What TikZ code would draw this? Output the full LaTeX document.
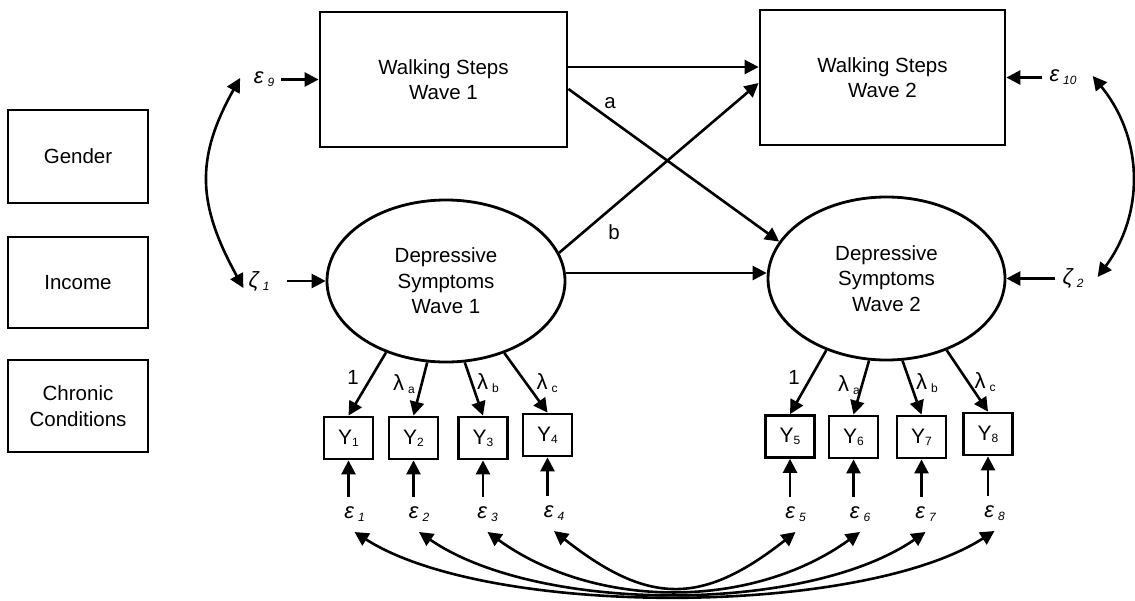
\documentclass[tikz,border=0pt]{standalone}
\usepackage{fontspec}
\setmainfont{Liberation Sans}
\usetikzlibrary{arrows.meta,shapes.geometric}
\newcommand{\lsub}[1]{\hspace{4pt}\raisebox{-3pt}{\fontsize{12}{12}\selectfont #1}}
\newcommand{\ysub}[1]{\raisebox{-2pt}{\fontsize{12}{12}\selectfont #1}}
\begin{document}
\begin{tikzpicture}[x=1pt,y=-1pt,
  every node/.style={font=\fontsize{20.5}{25.5}\selectfont},
  box/.style={draw, line width=2.8pt, inner sep=0pt, align=center},
  ell/.style={draw, ellipse, line width=2.8pt, inner sep=0pt, align=center},
  arr/.style={line width=2.6pt, -{Triangle[length=14pt,width=14pt]}},
  darr/.style={line width=2.6pt, {Triangle[length=14pt,width=14pt]}-{Triangle[length=14pt,width=14pt]}},
  ybox/.style={draw, line width=2.8pt, minimum width=49pt, minimum height=42pt, inner sep=0pt, font=\fontsize{21}{21}\selectfont},
  elab/.style={inner sep=0pt, outer xsep=2pt, outer ysep=10pt, text height=11pt, text depth=4pt, anchor=base, font=\fontsize{22}{22}\selectfont},
  lab/.style={inner ysep=2pt, inner xsep=7pt, font=\fontsize{22}{22}\selectfont},
  coef/.style={inner sep=1pt},
  lam/.style={inner sep=1pt, font=\fontsize{22}{22}\selectfont}]
\useasboundingbox (0,0) rectangle (1135,600);
% main variables
\node[box, minimum width=247pt, minimum height=135pt] (ws1) at (443.5,79.5) {Walking Steps\\Wave 1};
\node[box, minimum width=245pt, minimum height=135pt] (ws2) at (882.5,77.5) {Walking Steps\\Wave 2};
\node[ell, minimum width=238pt, minimum height=162pt] (ds1) at (446,281) {Depressive\\Symptoms\\Wave 1};
\node[ell, minimum width=237pt, minimum height=163pt] (ds2) at (886.5,278.5) {Depressive\\Symptoms\\Wave 2};
% covariates
\node[box, minimum width=140pt, minimum height=93pt] (gen) at (78,156.5) {Gender};
\node[box, minimum width=140pt, minimum height=91pt] (inc) at (78,282.5) {Income};
\node[box, minimum width=140pt, minimum height=92pt] (chr) at (78,406) {Chronic\\Conditions};
% indicators
\node[ybox] (y1) at (348.5,438) {Y\ysub{1}};
\node[ybox] (y2) at (413.5,438) {Y\ysub{2}};
\node[ybox] (y3) at (483,438) {Y\ysub{3}};
\node[ybox] (y4) at (547.5,435) {Y\ysub{4}};
\node[ybox] (y5) at (790,436.5) {Y\ysub{5}};
\node[ybox] (y6) at (853.5,437) {Y\ysub{6}};
\node[ybox] (y7) at (921.5,437) {Y\ysub{7}};
\node[ybox] (y8) at (988,434) {Y\ysub{8}};
% residuals of indicators
\node[elab] (e1) at (354.5,518) {\itshape ε\lsub{1}};
\node[elab] (e2) at (419,518) {\itshape ε\lsub{2}};
\node[elab] (e3) at (487.5,518) {\itshape ε\lsub{3}};
\node[elab] (e4) at (554,517) {\itshape ε\lsub{4}};
\node[elab] (e5) at (795.5,518) {\itshape ε\lsub{5}};
\node[elab] (e6) at (860,518) {\itshape ε\lsub{6}};
\node[elab] (e7) at (925.5,518) {\itshape ε\lsub{7}};
\node[elab] (e8) at (994.5,517) {\itshape ε\lsub{8}};
% structural residuals
\node[lab] (e9) at (264,79.5) {\itshape ε\lsub{9}};
\node[lab] (e10) at (1063,77.5) {\itshape ε\lsub{10}};
\node[lab] (z1) at (259,281) {\itshape ζ\lsub{1}};
\node[lab] (z2) at (1073,278.5) {\itshape ζ\lsub{2}};
% structural paths
\draw[arr] ([yshift=12.5pt]ws1.east) -- ([yshift=12.5pt]ws1.east -| ws2.west);
\draw[arr] ([yshift=-9.5pt]ws1.east) -- (ds2.161);
\draw[arr] (ds1.14) -- ([yshift=-5.5pt]ws2.west);
\draw[arr] ([yshift=8pt]ds1.east) -- ([yshift=8pt]ds1.east -| ds2.west);
\node[coef] (pa) at (610,103) {a};
\node[coef] (pb) at (614,232) {b};
% residual arrows
\draw[arr] (e9) -- (ws1);
\draw[arr] (e10) -- (ws2);
\draw[arr, shorten <=10pt] (z1) -- (ds1);
\draw[arr] (z2) -- (ds2);
\draw[darr] ([xshift=-6.5pt,yshift=1.5pt]e9.west) .. controls +(-46,82) and +(-45,-82) .. ([xshift=2pt,yshift=-7pt]z1.west);
\draw[darr] ([xshift=9pt,yshift=1.5pt]e10.east) .. controls +(52,64) and +(46,-62) .. ([xshift=7pt,yshift=1.5pt]z2.east);
% loadings
\draw[arr] (ds1.230) -- (y1.north);
\draw[arr] (ds1.257) -- (y2.north);
\draw[arr] (ds1.283) -- (y3.north);
\draw[arr] (ds1.309) -- (y4.north);
\draw[arr] (ds2.230) -- (y5.north);
\draw[arr] (ds2.258) -- (y6.north);
\draw[arr] (ds2.281) -- (y7.north);
\draw[arr] (ds2.310) -- (y8.north);
\node[coef] (l1) at (353,377) {1};
\node[lam] (l2) at (404,384) {λ\lsub{a}};
\node[lam] (l3) at (488,383) {λ\lsub{b}};
\node[lam] (l4) at (547,383) {λ\lsub{c}};
\node[coef] (l5) at (794,377) {1};
\node[lam] (l6) at (849,385) {λ\lsub{a}};
\node[lam] (l7) at (927,383) {λ\lsub{b}};
\node[lam] (l8) at (985,382) {λ\lsub{c}};
% indicator residual paths
\draw[arr] (y1.south |- e1.north) -- (y1.south);
\draw[arr] (y2.south |- e2.north) -- (y2.south);
\draw[arr] (y3.south |- e3.north) -- (y3.south);
\draw[arr] (y4.south |- e4.north) -- (y4.south);
\draw[arr] (y5.south |- e5.north) -- (y5.south);
\draw[arr] (y6.south |- e6.north) -- (y6.south);
\draw[arr] (y7.south |- e7.north) -- (y7.south);
\draw[arr] (y8.south |- e8.north) -- (y8.south);
% correlated residuals
\draw[darr] (e1.south) .. controls +(134,86) and +(-134,86) .. (e8.south);
\draw[darr] (e2.south) .. controls +(119,82) and +(-119,82) .. (e7.south);
\draw[darr] (e3.south) .. controls +(108,78) and +(-108,78) .. (e6.south);
\draw[darr] (e4.south) .. controls +(94,74) and +(-94,74) .. (e5.south);
\end{tikzpicture}
\end{document}
